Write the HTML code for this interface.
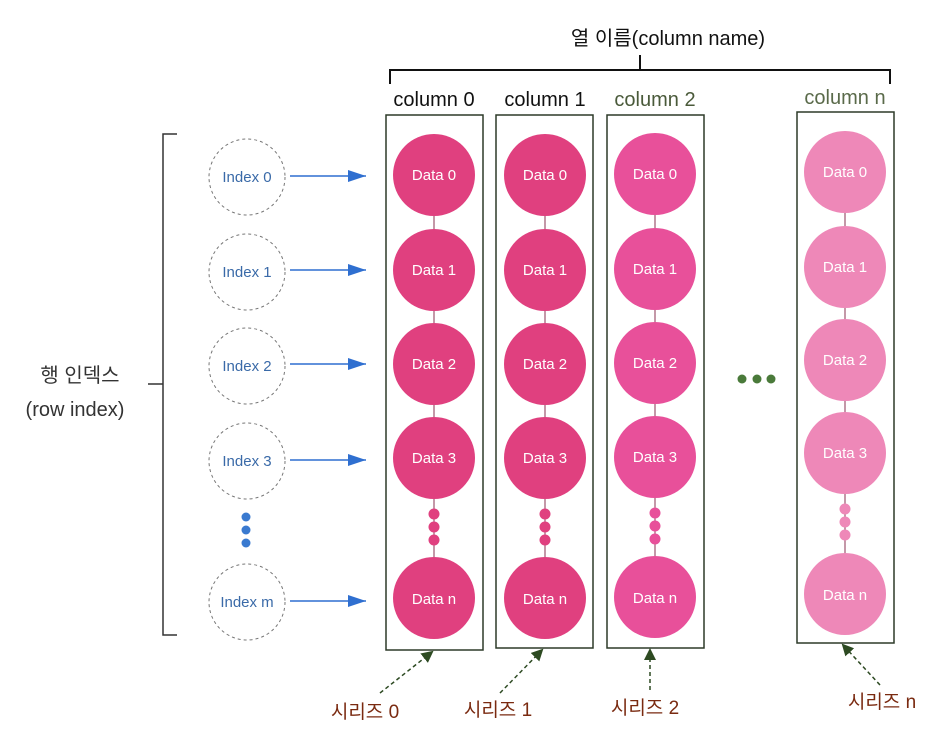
<!DOCTYPE html>
<html><head><meta charset="utf-8"><style>
html,body{margin:0;padding:0;background:#fff;}
svg{display:block;}
text{font-family:"Liberation Sans","Noto Sans CJK KR",sans-serif;}
.d{fill:#fff;font-size:15px;text-anchor:middle;}
.ix{fill:#3a6aa8;font-size:15px;text-anchor:middle;}
.s{fill:#7a2a10;font-size:19px;text-anchor:middle;}
</style></head><body>
<svg width="950" height="732" viewBox="0 0 950 732">
<defs>
<marker id="ab" markerWidth="20" markerHeight="12" refX="18" refY="6" orient="auto" markerUnits="userSpaceOnUse"><path d="M0,0 L18,6 L0,12 Z" fill="#2f6fd0"/></marker>
<marker id="ag" markerWidth="12" markerHeight="12" refX="10" refY="6" orient="auto" markerUnits="userSpaceOnUse"><path d="M0,0 L12,6 L0,12 Z" fill="#2d4a22"/></marker>
</defs>
<text x="668" y="45" font-size="20" text-anchor="middle" fill="#111">열 이름(column name)</text>
<path d="M390,84 V70 H890 V84 M640,70 V55" stroke="#111" stroke-width="2" fill="none"/>
<text x="434" y="106" font-size="20" text-anchor="middle" fill="#111">column 0</text>
<text x="545" y="106" font-size="20" text-anchor="middle" fill="#111">column 1</text>
<text x="655" y="106" font-size="20" text-anchor="middle" fill="#4a5a3a">column 2</text>
<text x="845" y="104" font-size="20" text-anchor="middle" fill="#5a6a4a">column n</text>
<path d="M177,134 H163 V635 H177 M163,384 H148" stroke="#333" stroke-width="1.5" fill="none"/>
<text x="80" y="382" font-size="20" text-anchor="middle" fill="#333">행 인덱스</text>
<text x="75" y="416" font-size="20" text-anchor="middle" fill="#333">(row index)</text>
<g fill="none" stroke="#777" stroke-dasharray="3,3">
<circle cx="247" cy="177" r="38"/><circle cx="247" cy="272" r="38"/><circle cx="247" cy="366" r="38"/><circle cx="247" cy="461" r="38"/><circle cx="247" cy="602" r="38"/>
</g>
<text class="ix" x="247" y="182">Index 0</text>
<text class="ix" x="247" y="277">Index 1</text>
<text class="ix" x="247" y="371">Index 2</text>
<text class="ix" x="247" y="466">Index 3</text>
<text class="ix" x="247" y="607">Index m</text>
<g stroke="#2f6fd0" stroke-width="1.6" marker-end="url(#ab)">
<line x1="290" y1="176" x2="366" y2="176"/><line x1="290" y1="270" x2="366" y2="270"/><line x1="290" y1="364" x2="366" y2="364"/><line x1="290" y1="460" x2="366" y2="460"/><line x1="290" y1="601" x2="366" y2="601"/>
</g>
<g fill="#3a7ad0"><circle cx="246" cy="517" r="4.5"/><circle cx="246" cy="530" r="4.5"/><circle cx="246" cy="543" r="4.5"/></g>
<g fill="#4a7a3a"><circle cx="742" cy="379" r="4.5"/><circle cx="757" cy="379" r="4.5"/><circle cx="771" cy="379" r="4.5"/></g>
<g fill="none" stroke="#2d3a28" stroke-width="1.5">
<rect x="386" y="115" width="97" height="535"/><rect x="496" y="115" width="97" height="533"/><rect x="607" y="115" width="97" height="533"/><rect x="797" y="112" width="97" height="531"/>
</g>
<g stroke="#8a3050" stroke-width="1"><line x1="434" y1="175" x2="434" y2="598"/><line x1="545" y1="175" x2="545" y2="598"/><line x1="655" y1="174" x2="655" y2="597"/><line x1="845" y1="172" x2="845" y2="594"/></g>
<g fill="#e0407f">
<circle cx="434" cy="175" r="41"/><circle cx="434" cy="270" r="41"/><circle cx="434" cy="364" r="41"/><circle cx="434" cy="458" r="41"/><circle cx="434" cy="598" r="41"/>
<circle cx="434" cy="514" r="5.5"/><circle cx="434" cy="527" r="5.5"/><circle cx="434" cy="540" r="5.5"/>
<circle cx="545" cy="175" r="41"/><circle cx="545" cy="270" r="41"/><circle cx="545" cy="364" r="41"/><circle cx="545" cy="458" r="41"/><circle cx="545" cy="598" r="41"/>
<circle cx="545" cy="514" r="5.5"/><circle cx="545" cy="527" r="5.5"/><circle cx="545" cy="540" r="5.5"/>
</g>
<g fill="#e8509a">
<circle cx="655" cy="174" r="41"/><circle cx="655" cy="269" r="41"/><circle cx="655" cy="363" r="41"/><circle cx="655" cy="457" r="41"/><circle cx="655" cy="597" r="41"/>
<circle cx="655" cy="513" r="5.5"/><circle cx="655" cy="526" r="5.5"/><circle cx="655" cy="539" r="5.5"/>
</g>
<g fill="#ee88b8">
<circle cx="845" cy="172" r="41"/><circle cx="845" cy="267" r="41"/><circle cx="845" cy="360" r="41"/><circle cx="845" cy="453" r="41"/><circle cx="845" cy="594" r="41"/>
<circle cx="845" cy="509" r="5.5"/><circle cx="845" cy="522" r="5.5"/><circle cx="845" cy="535" r="5.5"/>
</g>
<text class="d" x="434" y="180">Data 0</text><text class="d" x="434" y="275">Data 1</text><text class="d" x="434" y="369">Data 2</text><text class="d" x="434" y="463">Data 3</text><text class="d" x="434" y="604">Data n</text>
<text class="d" x="545" y="180">Data 0</text><text class="d" x="545" y="275">Data 1</text><text class="d" x="545" y="369">Data 2</text><text class="d" x="545" y="463">Data 3</text><text class="d" x="545" y="604">Data n</text>
<text class="d" x="655" y="179">Data 0</text><text class="d" x="655" y="274">Data 1</text><text class="d" x="655" y="368">Data 2</text><text class="d" x="655" y="462">Data 3</text><text class="d" x="655" y="603">Data n</text>
<text class="d" x="845" y="177">Data 0</text><text class="d" x="845" y="272">Data 1</text><text class="d" x="845" y="365">Data 2</text><text class="d" x="845" y="458">Data 3</text><text class="d" x="845" y="600">Data n</text>
<g stroke="#2d4a22" stroke-width="1.5" stroke-dasharray="4,3" marker-end="url(#ag)" fill="none">
<line x1="380" y1="693" x2="432" y2="652"/><line x1="500" y1="693" x2="542" y2="650"/><line x1="650" y1="690" x2="650" y2="650"/><line x1="880" y1="685" x2="843" y2="645"/>
</g>
<text class="s" x="365" y="718">시리즈 0</text>
<text class="s" x="498" y="716">시리즈 1</text>
<text class="s" x="645" y="714">시리즈 2</text>
<text class="s" x="882" y="708">시리즈 n</text>
</svg>
</body></html>
